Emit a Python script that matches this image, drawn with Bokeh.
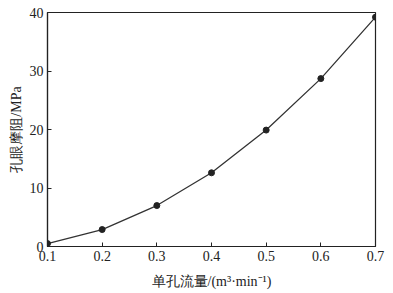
from bokeh.plotting import figure
from bokeh.models import Range1d, FixedTicker
from bokeh.embed import file_html
from bokeh.resources import INLINE

flow = [0.1, 0.2, 0.3, 0.4, 0.5, 0.6, 0.7]
friction = [0.5, 2.9, 7.0, 12.6, 19.9, 28.7, 39.2]
x_ticks = [0.1, 0.2, 0.3, 0.4, 0.5, 0.6, 0.7]
y_ticks = [0, 10, 20, 30, 40]
x_label = "单孔流量/(m³·min⁻¹)"
y_label = "孔眼摩阻/MPa"

FONT = "Liberation Serif"

p = figure(width=393, height=293, output_backend="svg", toolbar_location=None,
           x_range=Range1d(0.1, 0.7), y_range=Range1d(0, 40),
           min_border_left=47, min_border_right=18, min_border_top=12, min_border_bottom=47)
p.background_fill_color = "white"
p.border_fill_color = "white"
p.outline_line_color = "#222222"
p.outline_line_width = 1.2
p.grid.visible = False

p.line(flow, friction, line_color="#333333", line_width=1.3)
p.scatter(flow, friction, size=6, fill_color="#222222", line_color="#222222")

for ax in (p.xaxis[0], p.yaxis[0]):
    ax.axis_line_color = "#222222"
    ax.axis_line_width = 1.2
    ax.major_tick_in = 4
    ax.major_tick_out = 0
    ax.minor_tick_line_color = None
    ax.major_tick_line_color = "#222222"
    ax.major_label_text_font = FONT
    ax.major_label_text_font_size = "14px"
    ax.major_label_text_color = "#222222"
    ax.axis_label_text_font = FONT
    ax.axis_label_text_font_size = "14px"
    ax.axis_label_text_font_style = "normal"
    ax.axis_label_text_color = "#222222"

p.xaxis[0].ticker = FixedTicker(ticks=x_ticks)
p.yaxis[0].ticker = FixedTicker(ticks=y_ticks)
p.xaxis[0].major_label_overrides = {t: f"{t:.1f}" for t in x_ticks}
p.xaxis[0].axis_label = x_label
p.yaxis[0].axis_label = y_label
p.xaxis[0].major_label_standoff = 4
p.yaxis[0].major_label_standoff = 4
p.xaxis[0].axis_label_standoff = 10
p.yaxis[0].axis_label_standoff = 3

open("out.html", "w").write(file_html(p, INLINE))
